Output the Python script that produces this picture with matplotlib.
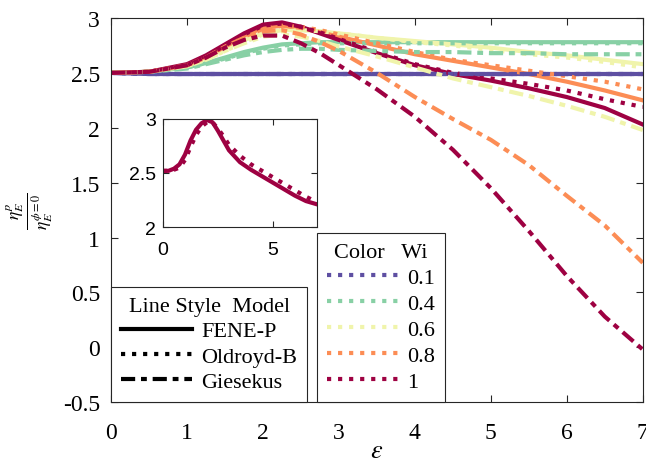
import matplotlib
matplotlib.use("Agg")
import matplotlib.pyplot as plt
from matplotlib.lines import Line2D

plt.rcParams['font.family'] = ['Liberation Serif', 'DejaVu Serif']
plt.rcParams['mathtext.fontset'] = 'stix'
plt.rcParams['axes.unicode_minus'] = False

# strain values (x axis)
eps = [0, 0.5, 1, 1.25, 1.5, 1.75, 2, 2.25, 2.5, 2.75, 3, 3.5, 4, 4.5, 5, 5.5, 6, 6.5, 7]

wi_labels = ['0.1', '0.4', '0.6', '0.8', '1']
wi_colors = ['#5e4fa2', '#88d0a5', '#f0f4ab', '#fc8d55', '#9e0142']

# FENE-P (solid)
fene_01 = [2.50, 2.49, 2.49, 2.49, 2.49, 2.49, 2.49, 2.49, 2.49, 2.49, 2.49, 2.49, 2.49, 2.49, 2.49, 2.49, 2.49, 2.49, 2.49]
fene_04 = [2.50, 2.51, 2.55, 2.59, 2.64, 2.69, 2.73, 2.76, 2.77, 2.78, 2.78, 2.78, 2.78, 2.78, 2.78, 2.78, 2.78, 2.78, 2.78]
fene_06 = [2.50, 2.51, 2.56, 2.63, 2.72, 2.80, 2.86, 2.89, 2.89, 2.88, 2.86, 2.82, 2.79, 2.76, 2.73, 2.69, 2.66, 2.62, 2.58]
fene_08 = [2.50, 2.51, 2.57, 2.65, 2.75, 2.84, 2.91, 2.93, 2.91, 2.87, 2.83, 2.75, 2.67, 2.61, 2.55, 2.49, 2.42, 2.34, 2.25]
fene_10 = [2.50, 2.51, 2.58, 2.66, 2.76, 2.86, 2.94, 2.96, 2.92, 2.86, 2.80, 2.68, 2.57, 2.49, 2.43, 2.36, 2.28, 2.18, 2.03]

# Oldroyd-B (dotted)
oldb_01 = [2.50, 2.49, 2.49, 2.49, 2.49, 2.49, 2.49, 2.49, 2.49, 2.49, 2.49, 2.49, 2.49, 2.49, 2.49, 2.49, 2.49, 2.49, 2.49]
oldb_04 = [2.50, 2.51, 2.55, 2.59, 2.63, 2.68, 2.72, 2.75, 2.76, 2.77, 2.77, 2.77, 2.77, 2.77, 2.77, 2.77, 2.77, 2.77, 2.77]
oldb_06 = [2.50, 2.51, 2.56, 2.62, 2.70, 2.78, 2.85, 2.88, 2.89, 2.88, 2.86, 2.82, 2.78, 2.75, 2.71, 2.67, 2.64, 2.60, 2.55]
oldb_08 = [2.50, 2.51, 2.57, 2.64, 2.74, 2.83, 2.90, 2.93, 2.92, 2.89, 2.85, 2.77, 2.69, 2.62, 2.57, 2.52, 2.47, 2.42, 2.35]
oldb_10 = [2.50, 2.51, 2.57, 2.65, 2.75, 2.85, 2.93, 2.95, 2.92, 2.87, 2.81, 2.69, 2.58, 2.50, 2.45, 2.40, 2.34, 2.26, 2.19]

# Giesekus (dash-dot)
gies_01 = [2.50, 2.49, 2.49, 2.49, 2.49, 2.49, 2.49, 2.49, 2.49, 2.49, 2.49, 2.49, 2.49, 2.49, 2.49, 2.49, 2.49, 2.49, 2.49]
gies_04 = [2.50, 2.51, 2.54, 2.58, 2.62, 2.66, 2.69, 2.71, 2.72, 2.72, 2.71, 2.70, 2.69, 2.69, 2.68, 2.68, 2.67, 2.67, 2.67]
gies_06 = [2.50, 2.51, 2.56, 2.62, 2.70, 2.77, 2.83, 2.85, 2.83, 2.79, 2.74, 2.65, 2.55, 2.45, 2.37, 2.29, 2.20, 2.10, 1.98]
gies_08 = [2.50, 2.51, 2.57, 2.64, 2.74, 2.82, 2.88, 2.89, 2.85, 2.78, 2.70, 2.50, 2.28, 2.08, 1.89, 1.66, 1.38, 1.11, 0.77]
gies_10 = [2.50, 2.51, 2.57, 2.64, 2.73, 2.80, 2.84, 2.84, 2.77, 2.68, 2.57, 2.35, 2.10, 1.80, 1.45, 1.06, 0.65, 0.28, -0.02]

# inset
eps_in = [0, 0.25, 0.5, 0.75, 1, 1.25, 1.5, 1.75, 2, 2.25, 2.5, 2.75, 3, 3.5, 4, 4.5, 5, 5.5, 6, 6.5, 7]
inset_fene = [2.52, 2.52, 2.54, 2.58, 2.67, 2.80, 2.90, 2.96, 2.99, 2.97, 2.89, 2.80, 2.71, 2.60, 2.53, 2.47, 2.41, 2.35, 2.29, 2.24, 2.21]
inset_oldb = [2.52, 2.52, 2.53, 2.55, 2.62, 2.74, 2.85, 2.93, 2.97, 2.97, 2.91, 2.84, 2.76, 2.66, 2.58, 2.52, 2.46, 2.40, 2.34, 2.28, 2.23]

models = [
    ('FENE-P', '-', [fene_01, fene_04, fene_06, fene_08, fene_10]),
    ('Oldroyd-B', ':', [oldb_01, oldb_04, oldb_06, oldb_08, oldb_10]),
    ('Giesekus', '-.', [gies_01, gies_04, gies_06, gies_08, gies_10]),
]
dashdot = (3.4, 1.4, 1.4, 1.4)
lw = 3

fig = plt.figure(figsize=(6.46, 4.64), dpi=100)
ax = fig.add_axes([0.172, 0.131, 0.823, 0.828])

for name, ls, series in models:
    for vals, col in zip(series, wi_colors):
        if ls == '-.':
            ax.plot(eps, vals, color=col, lw=lw, linestyle=(0, dashdot))
        else:
            ax.plot(eps, vals, color=col, lw=lw, linestyle=ls)

ax.set_xlim(0, 7)
ax.set_ylim(-0.5, 3)
ax.set_xticks(range(0, 8))
ax.set_yticks([-0.5, 0, 0.5, 1, 1.5, 2, 2.5, 3])
ax.set_yticklabels(['-0.5', '0', '0.5', '1', '1.5', '2', '2.5', '3'])
ax.tick_params(direction='in', top=True, right=True, labelsize=17, length=5,
               color='#262626')
ax.tick_params(axis='x', pad=14)
ax.tick_params(axis='y', pad=8)
for s in ax.spines.values():
    s.set_color('#262626')
    s.set_linewidth(0.8)
ax.set_xlabel(r'$\varepsilon$', fontsize=19, labelpad=-2)
ax.set_ylabel(r'$\frac{\eta_E^p}{\eta_E^{\phi=0}}$', fontsize=18, labelpad=6)

# legends
style_handles = [Line2D([], [], color='k', lw=lw, linestyle='-'),
                 Line2D([], [], color='k', lw=lw, linestyle=':'),
                 Line2D([], [], color='k', lw=lw, linestyle=(0, dashdot))]
leg1 = ax.legend(style_handles, [m[0] for m in models], title='Line Style  Model',
                 loc='lower left', bbox_to_anchor=(0, 0), borderaxespad=0,
                 fontsize=16, title_fontsize=16, handlelength=3.2,
                 labelspacing=0.22, fancybox=False, framealpha=1,
                 edgecolor='#262626', borderpad=0.45, handletextpad=0.4)
leg1.get_frame().set_linewidth(0.8)
ax.add_artist(leg1)

wi_handles = [Line2D([], [], color=c, lw=lw, linestyle=':') for c in wi_colors]
leg2 = ax.legend(wi_handles, wi_labels, title='Color   Wi',
                 loc='lower left', bbox_to_anchor=(0.387, 0), borderaxespad=0,
                 fontsize=16, title_fontsize=16, handlelength=3.2,
                 labelspacing=0.25, fancybox=False, framealpha=1,
                 edgecolor='#262626', borderpad=0.45, handletextpad=0.4)
leg2.get_frame().set_linewidth(0.8)

# inset
axin = fig.add_axes([0.2523, 0.5086, 0.2384, 0.2328])
axin.plot(eps_in, inset_fene, color=wi_colors[4], lw=lw, linestyle='-')
axin.plot(eps_in, inset_oldb, color=wi_colors[4], lw=lw, linestyle=':')
axin.set_xlim(0, 7)
axin.set_ylim(2, 3)
axin.set_xticks([0, 5])
axin.set_yticks([2, 2.5, 3])
axin.set_yticklabels(['2', '2.5', '3'])
axin.tick_params(direction='in', top=True, right=True, length=4, color='#262626',
                 labelsize=14, pad=5)
axin.tick_params(axis='x', pad=10)
for lab in axin.get_xticklabels() + axin.get_yticklabels():
    lab.set_family('Liberation Sans')
for s in axin.spines.values():
    s.set_color('#262626')
    s.set_linewidth(0.8)

fig.savefig('out.png', dpi=100)
